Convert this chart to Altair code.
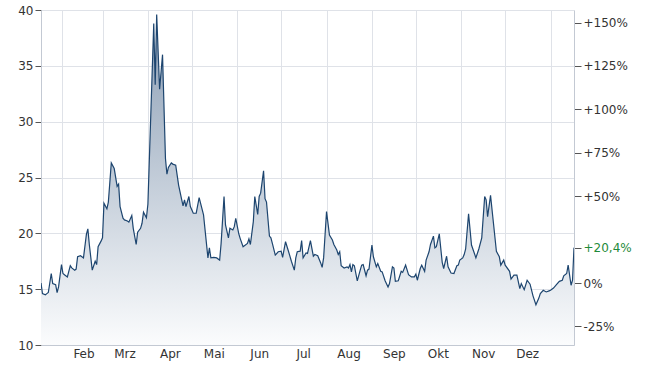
import altair as alt
import pandas as pd

start = "2025-01-18"
end = "2026-01-17"

days = [
    0, 1, 3, 4, 5, 7, 8, 10, 11, 12,
    14, 15, 16, 18, 20, 21, 23, 24, 25, 27,
    29, 31, 32, 33, 35, 37, 38, 39, 41, 42,
    43, 45, 46, 48, 50, 52, 53, 54, 56, 57,
    59, 60, 62, 63, 65, 66, 68, 69, 70, 72,
    73, 77, 78, 79, 81, 83, 85, 86, 87, 89,
    90, 92, 94, 97, 98, 99, 101, 102, 104, 106,
    108, 111, 114, 115, 116, 118, 120, 122, 123, 125,
    126, 128, 129, 131, 132, 133, 135, 136, 138, 141,
    142, 143, 145, 146, 148, 149, 150, 152, 153, 154,
    156, 157, 158, 160, 162, 164, 165, 167, 169, 171,
    173, 174, 175, 177, 178, 179, 181, 182, 184, 186,
    187, 189, 191, 192, 193, 195, 197, 199, 200, 202,
    203, 204, 205, 207, 209, 210, 211, 212, 213, 214,
    216, 218, 219, 220, 222, 223, 224, 226, 227, 229,
    230, 232, 233, 235, 237, 238, 240, 241, 242, 244,
    246, 247, 249, 251, 253, 255, 256, 257, 259, 260,
    262, 263, 265, 266, 268, 269, 270, 272, 274, 275,
    277, 278, 280, 282, 284, 285, 286, 288, 289, 290,
    292, 294, 296, 297, 299, 301, 303, 304, 305, 307,
    309, 311, 313, 314, 316, 317, 320, 321, 323, 325,
    327, 328, 330, 332, 334, 336, 338, 340, 341, 343,
    345, 347, 348, 350, 352, 354, 356, 357, 359, 360,
    362, 363, 364,
]

values = [
    15.55, 14.6, 14.5, 14.6, 14.7, 16.4, 15.5, 15.4, 14.7, 15.2,
    17.2, 16.4, 16.3, 16.1, 17.1, 16.9, 16.7, 16.8, 17.9, 18.0,
    17.8, 19.9, 20.4, 19.0, 16.7, 17.5, 17.2, 18.8, 19.3, 19.6,
    22.7, 22.2, 22.8, 26.3, 25.8, 24.2, 24.4, 22.4, 21.35, 21.2,
    21.1, 21.0, 21.6, 20.45, 19.0, 20.1, 20.45, 20.9, 21.9, 21.4,
    22.6, 38.8, 33.3, 39.6, 32.9, 36.0, 26.7, 25.3, 25.9, 26.3,
    26.2, 26.1, 24.3, 22.45, 23.0, 22.4, 23.3, 22.4, 21.8, 21.8,
    23.2, 21.65, 17.8, 18.7, 17.8, 17.85, 17.8, 17.6, 19.1, 23.3,
    20.75, 19.6, 20.45, 20.3, 20.6, 21.35, 20.0, 19.55, 18.8, 19.1,
    19.5, 19.0, 21.05, 23.3, 21.7, 23.3, 23.6, 25.6, 23.1, 22.8,
    19.75, 19.6, 19.1, 18.05, 18.35, 18.4, 17.85, 19.25, 18.4, 17.5,
    16.7, 17.8, 18.35, 18.4, 19.35, 17.8, 18.25, 18.2, 19.35, 17.95,
    18.1, 18.0, 17.35, 16.95, 17.8, 21.95, 19.85, 19.4, 19.0, 18.5,
    18.1, 18.35, 17.1, 16.9, 17.0, 16.9, 17.2, 16.55, 17.2, 17.1,
    15.75, 16.7, 17.15, 17.2, 16.2, 16.7, 16.8, 18.95, 17.9, 17.0,
    17.3, 16.6, 16.55, 15.75, 15.2, 15.5, 17.0, 16.9, 15.7, 15.75,
    16.6, 16.5, 17.15, 16.3, 16.1, 16.1, 16.35, 15.8, 16.85, 17.15,
    16.6, 17.6, 18.35, 19.0, 19.75, 18.7, 18.8, 19.95, 17.4, 16.85,
    17.95, 17.0, 16.45, 16.4, 17.1, 17.15, 17.6, 17.8, 18.1, 18.6,
    21.75, 18.95, 18.2, 17.8, 18.6, 19.6, 23.3, 23.0, 21.5, 23.4,
    20.9, 18.4, 17.9, 17.15, 17.6, 17.15, 16.6, 15.9, 16.25, 16.25,
    15.05, 15.5, 14.95, 15.8, 15.45, 14.4, 13.6, 14.2, 14.6, 14.9,
    14.75, 14.85, 14.9, 15.1, 15.4, 15.7, 15.8, 16.2, 16.4, 17.15,
    15.35, 15.8, 18.72,
]

month_names = ["Jan", "Feb", "Mrz", "Apr", "Mai", "Jun", "Jul", "Aug", "Sep", "Okt", "Nov", "Dez"]
month_starts = [(2025, m) for m in range(2, 13)] + [(2026, 1)]
left_ticks = [10, 15, 20, 25, 30, 35, 40]
right_ticks = [-25, 0, 50, 75, 100, 125, 150]
y_min, y_max = 10, 40

assert len(days) == len(values)

base = values[0]
pct_last = round((values[-1] / base - 1) * 100, 1)

dates = (pd.Timestamp(start) + pd.to_timedelta(days, unit="D")).strftime("%Y-%m-%d")
df = pd.DataFrame({"date": list(dates), "value": values})
df["pct"] = (df["value"] / base - 1) * 100

FONT = "DejaVu Sans"
TXT = "#333333"
GRID = "#dfe2e8"
DOMAIN = "#c3c9d3"

x_scale = alt.Scale(
    type="utc",
    domain=[alt.DateTime(year=2025, month=1, date=18, utc=True),
            alt.DateTime(year=2026, month=1, date=17, utc=True)],
)
month_vals = [alt.DateTime(year=y, month=m, date=1, utc=True) for y, m in month_starts]
names_js = "[" + ",".join(f"'{n}'" for n in month_names) + "]"

x_enc = alt.X(
    "date:T",
    scale=x_scale,
    axis=alt.Axis(
        title=None, values=month_vals, grid=True, gridColor=GRID, ticks=False, tickSize=0,
        labelExpr=f"utcmonth(datum.value) == 0 ? '' : {names_js}[utcmonth(datum.value)]",
        labelOffset=22, labelPadding=3, labelFont=FONT, labelFontSize=12, labelColor=TXT,
        domainColor=DOMAIN, labelFlush=False, labelOverlap=False,
    ),
)

y_scale = alt.Scale(domain=[y_min, y_max], zero=False, nice=False)
y_axis = alt.Axis(
    title=None, values=left_ticks, grid=True, gridColor=GRID, tickSize=6, tickColor="#555555",
    labelPadding=2, labelFont=FONT, labelFontSize=12, labelColor=TXT, domainColor=DOMAIN,
    labelOverlap=False,
)

gradient = alt.Gradient(
    gradient="linear",
    stops=[alt.GradientStop(color="#8a9db4", offset=0), alt.GradientStop(color="#fbfcfd", offset=1)],
    x1=1, x2=1, y1=0, y2=1,
)

area = alt.Chart(df).mark_area(color=gradient, clip=True).encode(
    x=x_enc,
    y=alt.Y("value:Q", scale=y_scale, axis=y_axis),
    y2=alt.datum(y_min),
)
line = alt.Chart(df).mark_line(color="#1d456f", strokeWidth=1.2, clip=True).encode(
    x=alt.X("date:T", scale=x_scale),
    y=alt.Y("value:Q", scale=y_scale),
)

pct_scale = alt.Scale(domain=[(y_min / base - 1) * 100, (y_max / base - 1) * 100], zero=False, nice=False)
right = alt.Chart(df).mark_line(opacity=0).encode(
    x=alt.X("date:T", scale=x_scale),
    y=alt.Y(
        "pct:Q", scale=pct_scale,
        axis=alt.Axis(
            title=None, orient="right", values=right_ticks + [pct_last], grid=False,
            tickSize=7, tickColor="#555555", labelPadding=2, labelFont=FONT, labelFontSize=12,
            labelColor={"condition": {"test": f"datum.value == {pct_last}", "value": "#1f8a3a"}, "value": TXT},
            labelExpr="(datum.value > 0 ? '+' : '') + replace('' + datum.value, '.', ',') + '%'",
            domainColor=DOMAIN, labelOverlap=False,
        ),
    ),
)

chart = (
    alt.layer(alt.layer(area, line), right)
    .resolve_scale(y="independent")
    .properties(
        width=533, height=335,
        padding={"left": 41, "top": 10, "right": 76, "bottom": 25},
        autosize=alt.AutoSizeParams(type="none"),
        background="white",
    )
    .configure_view(stroke=None)
)

chart.save("out.html", embed_options={"renderer": "svg", "actions": False})
